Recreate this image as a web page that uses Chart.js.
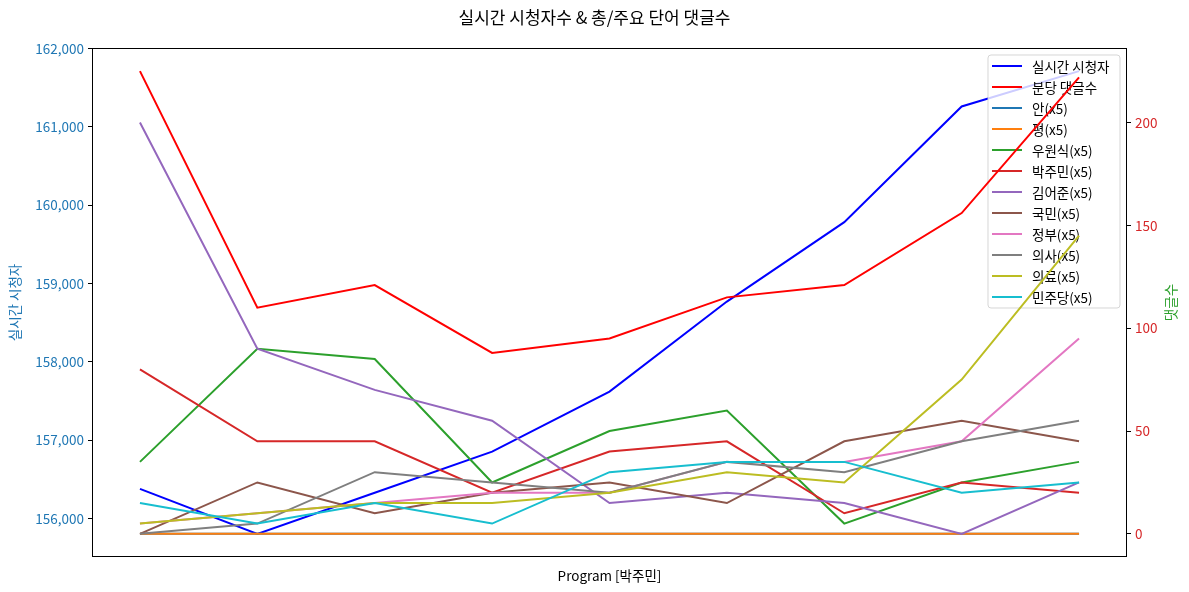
<!DOCTYPE html>
<html>
<head>
<meta charset="utf-8">
<script src="https://cdn.jsdelivr.net/npm/chart.js@4.4.1/dist/chart.umd.min.js"></script>
<style>
  html, body { margin: 0; padding: 0; background: #fff; }
  canvas { display: block; }
</style>
</head>
<body>
<canvas id="c" width="1189" height="592"></canvas>
<script>
// ---- data ----
const xIndex = [0, 1, 2, 3, 4, 5, 6, 7, 8];
const viewers = [156380, 155805, 156330, 156855, 157620, 158770, 159783, 161260, 161711];
const commentsPerMin = [225, 110, 121, 88, 95, 115, 121, 156, 222];
const wordAn = [0, 0, 0, 0, 0, 0, 0, 0, 0];
const wordPyeong = [0, 0, 0, 0, 0, 0, 0, 0, 0];
const wordWonsik = [35, 90, 85, 25, 50, 60, 5, 25, 35];
const wordJumin = [80, 45, 45, 20, 40, 45, 10, 25, 20];
const wordEojun = [200, 90, 70, 55, 15, 20, 15, 0, 25];
const wordGukmin = [0, 25, 10, 20, 25, 15, 45, 55, 45];
const wordJeongbu = [5, 10, 15, 20, 20, 35, 35, 45, 95];
const wordUisa = [0, 5, 30, 25, 20, 35, 30, 45, 55];
const wordUiryo = [5, 10, 15, 15, 20, 30, 25, 75, 145];
const wordMinjudang = [15, 5, 15, 5, 30, 35, 35, 20, 25];
const leftTicks = [156000, 157000, 158000, 159000, 160000, 161000, 162000];
const rightTicks = [0, 50, 100, 150, 200];

const seriesNames = ['실시간 시청자', '분당 댓글수', '안(x5)', '평(x5)', '우원식(x5)', '박주민(x5)',
  '김어준(x5)', '국민(x5)', '정부(x5)', '의사(x5)', '의료(x5)', '민주당(x5)'];
const seriesValues = [viewers, commentsPerMin, wordAn, wordPyeong, wordWonsik, wordJumin,
  wordEojun, wordGukmin, wordJeongbu, wordUisa, wordUiryo, wordMinjudang];
const seriesColors = ['#0000ff', '#ff0000', '#1f77b4', '#ff7f0e', '#2ca02c', '#d62728',
  '#9467bd', '#8c564b', '#e377c2', '#7f7f7f', '#bcbd22', '#17becf'];

const FONT = "'Noto Sans CJK KR', 'Noto Sans', sans-serif";
const FS = 13.5;

function range(arrs) {
  const all = [].concat(...arrs);
  const lo = Math.min(...all), hi = Math.max(...all);
  const m = (hi - lo) * 0.05;
  return [lo - m, hi + m];
}
const [lMin, lMax] = range([viewers]);
const [rMin, rMax] = range(seriesValues.slice(1));

const datasets = seriesNames.map((name, i) => ({
  label: name,
  data: xIndex.map((x, j) => ({ x: x, y: seriesValues[i][j] })),
  borderColor: seriesColors[i],
  backgroundColor: seriesColors[i],
  borderWidth: 2,
  pointRadius: 0,
  tension: 0,
  fill: false,
  yAxisID: i === 0 ? 'y' : 'y1',
  order: seriesNames.length - i
}));

const legendPlugin = {
  id: 'mplLegend',
  afterDatasetDraw(chart, args) {
    if (args.index !== 0) return;
    const ctx = chart.ctx;
    const x0 = 988, y0 = 55, w = 132, h = 253, r = 3;
    ctx.save();
    ctx.beginPath();
    ctx.moveTo(x0 + r, y0);
    ctx.lineTo(x0 + w - r, y0);
    ctx.quadraticCurveTo(x0 + w, y0, x0 + w, y0 + r);
    ctx.lineTo(x0 + w, y0 + h - r);
    ctx.quadraticCurveTo(x0 + w, y0 + h, x0 + w - r, y0 + h);
    ctx.lineTo(x0 + r, y0 + h);
    ctx.quadraticCurveTo(x0, y0 + h, x0, y0 + h - r);
    ctx.lineTo(x0, y0 + r);
    ctx.quadraticCurveTo(x0, y0, x0 + r, y0);
    ctx.closePath();
    ctx.fillStyle = 'rgba(255,255,255,0.8)';
    ctx.fill();
    ctx.strokeStyle = 'rgba(204,204,204,0.8)';
    ctx.lineWidth = 1;
    ctx.stroke();
    ctx.font = FS + 'px ' + FONT;
    ctx.textBaseline = 'middle';
    ctx.textAlign = 'left';
    chart.data.datasets.forEach((ds, i) => {
      const yy = 66 + i * 21;
      ctx.strokeStyle = ds.borderColor;
      ctx.lineWidth = 2;
      ctx.beginPath();
      ctx.moveTo(992, yy);
      ctx.lineTo(1022, yy);
      ctx.stroke();
      ctx.fillStyle = '#000';
      ctx.fillText(ds.label, 1032, yy + 1);
    });
    ctx.restore();
  }
};

const framePlugin = {
  id: 'frame',
  afterDraw(chart) {
    const ctx = chart.ctx;
    const a = chart.chartArea;
    ctx.save();
    ctx.strokeStyle = '#000';
    ctx.lineWidth = 1;
    ctx.strokeRect(Math.round(a.left) - 0.5, Math.round(a.top) + 0.5,
      Math.round(a.right - a.left) + 1, Math.round(a.bottom - a.top) - 1);
    // right axis title, rotated like matplotlib (bottom-to-top)
    ctx.translate(1171, (a.top + a.bottom) / 2);
    ctx.rotate(-Math.PI / 2);
    ctx.font = FS + 'px ' + FONT;
    ctx.fillStyle = '#2ca02c';
    ctx.textAlign = 'center';
    ctx.textBaseline = 'middle';
    ctx.fillText('댓글수', 0, 0);
    ctx.restore();
  }
};

new Chart(document.getElementById('c'), {
  type: 'line',
  data: { datasets },
  plugins: [legendPlugin, framePlugin],
  options: {
    responsive: false,
    animation: false,
    devicePixelRatio: 1,
    layout: { padding: 0 },
    events: [],
    plugins: {
      legend: { display: false },
      tooltip: { enabled: false },
      title: {
        display: true,
        text: '실시간 시청자수 & 총/주요 단어 댓글수',
        color: '#000',
        font: { family: FONT, size: 17, weight: 'normal' },
        padding: { top: 7.5, bottom: 20.1 }
      }
    },
    scales: {
      x: {
        type: 'linear',
        min: -0.4,
        max: 8.4,
        ticks: { display: false },
        grid: { display: false, drawTicks: false },
        border: { display: false },
        title: {
          display: true,
          text: 'Program [박주민]',
          color: '#000',
          font: { family: FONT, size: FS },
          padding: { top: 0, bottom: 8 }
        },
        afterFit(s) { s.height = 35; }
      },
      y: {
        type: 'linear',
        position: 'left',
        min: lMin,
        max: lMax,
        afterBuildTicks(s) { s.ticks = leftTicks.map(v => ({ value: v })); },
        ticks: {
          color: '#1f77b4',
          font: { family: FONT, size: FS },
          padding: 4,
          callback: v => Number(v).toLocaleString('en-US')
        },
        grid: { drawOnChartArea: false, drawTicks: true, tickLength: 5, tickColor: '#000', color: '#000' },
        border: { display: false },
        title: {
          display: true,
          text: '실시간 시청자',
          color: '#1f77b4',
          font: { family: FONT, size: FS },
          padding: { top: 7, bottom: 0 }
        },
        afterFit(s) { s.width = 93; }
      },
      y1: {
        type: 'linear',
        position: 'right',
        min: rMin,
        max: rMax,
        afterBuildTicks(s) { s.ticks = rightTicks.map(v => ({ value: v })); },
        ticks: {
          color: '#d62728',
          font: { family: FONT, size: FS },
          padding: 4
        },
        grid: { drawOnChartArea: false, drawTicks: true, tickLength: 5, tickColor: '#000', color: '#000' },
        border: { display: false },
        title: { display: false },
        afterFit(s) { s.width = 63; }
      }
    }
  }
});
</script>
</body>
</html>
